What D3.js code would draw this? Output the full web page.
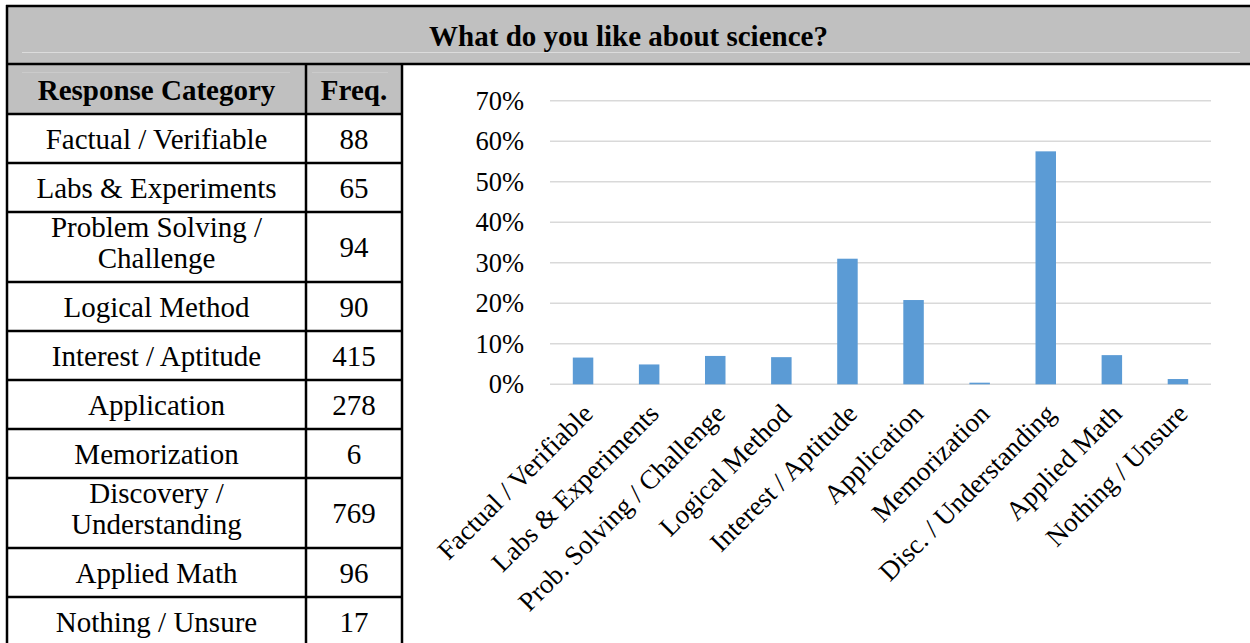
<!DOCTYPE html>
<html>
<head>
<meta charset="utf-8">
<script src="https://cdn.jsdelivr.net/npm/d3@7"></script>
<style>
  body { margin: 0; background: #fff; }
  svg { display: block; }
  text { font-family: "Liberation Serif", "Times New Roman", serif; fill: #000; }
</style>
</head>
<body>
<div id="chart"></div>
<script>
// table data
var title = "What do you like about science?";
var tableHeaders = ["Response Category", "Freq."];
var tableCategories = [
  ["Factual / Verifiable"],
  ["Labs & Experiments"],
  ["Problem Solving /", "Challenge"],
  ["Logical Method"],
  ["Interest / Aptitude"],
  ["Application"],
  ["Memorization"],
  ["Discovery /", "Understanding"],
  ["Applied Math"],
  ["Nothing / Unsure"]
];
var freqs = [88, 65, 94, 90, 415, 278, 6, 769, 96, 17];

// chart data
var categories = ["Factual / Verifiable", "Labs & Experiments", "Prob. Solving / Challenge",
  "Logical Method", "Interest / Aptitude", "Application", "Memorization",
  "Disc. / Understanding", "Applied Math", "Nothing / Unsure"];
var percents = [6.6, 4.9, 7.0, 6.7, 31.0, 20.8, 0.4, 57.5, 7.2, 1.3];
var yTicks = [0, 10, 20, 30, 40, 50, 60, 70];

var width = 1250, height = 643;

var svg = d3.select("#chart").append("svg")
    .attr("width", width)
    .attr("height", height);

// ---- title band ----
svg.append("rect")
    .attr("x", 7).attr("y", 6)
    .attr("width", width - 7).attr("height", 58)
    .attr("fill", "#c0c0c0");
svg.append("line")
    .attr("x1", 22).attr("x2", 1240).attr("y1", 52.5).attr("y2", 52.5)
    .attr("stroke", "#dcdcdc").attr("stroke-width", 1);
svg.append("text")
    .attr("x", (7 + width) / 2).attr("y", 46)
    .attr("text-anchor", "middle")
    .attr("font-size", 29).attr("font-weight", "bold")
    .text(title);

// ---- table ----
var colX = [7, 306, 402];
var headerTop = 64, headerBottom = 114;
var lineH = 49, extraH = 21;

var rowTops = [];
var yy = headerBottom;
tableCategories.forEach(function (lines) {
  rowTops.push(yy);
  yy += lineH + (lines.length - 1) * extraH;
});
var tableBottom = yy;

svg.append("rect")
    .attr("x", colX[0]).attr("y", headerTop)
    .attr("width", colX[2] - colX[0]).attr("height", headerBottom - headerTop)
    .attr("fill", "#c0c0c0");
svg.append("line")
    .attr("x1", 22).attr("x2", 290).attr("y1", 72.5).attr("y2", 72.5)
    .attr("stroke", "#cbcbcb");
svg.append("line")
    .attr("x1", 312).attr("x2", 388).attr("y1", 72.5).attr("y2", 72.5)
    .attr("stroke", "#cbcbcb");

svg.selectAll(".th")
    .data(tableHeaders)
  .enter().append("text")
    .attr("class", "th")
    .attr("x", function (d, i) { return (colX[i] + colX[i + 1]) / 2; })
    .attr("y", 100)
    .attr("text-anchor", "middle")
    .attr("font-size", 29).attr("font-weight", "bold")
    .text(function (d) { return d; });

var rows = svg.selectAll(".row")
    .data(tableCategories)
  .enter().append("g")
    .attr("class", "row")
    .attr("transform", function (d, i) { return "translate(0," + rowTops[i] + ")"; });

rows.each(function (lines, i) {
  var g = d3.select(this);
  var h = lineH + (lines.length - 1) * extraH;
  var mid = h / 2;
  var t = g.append("text")
      .attr("x", (colX[0] + colX[1]) / 2)
      .attr("text-anchor", "middle")
      .attr("font-size", 29);
  lines.forEach(function (s, k) {
    t.append("tspan")
        .attr("x", (colX[0] + colX[1]) / 2)
        .attr("y", mid + 10 - (lines.length - 1) * 20.5 + k * 31)
        .text(s);
  });
  g.append("text")
      .attr("x", (colX[1] + colX[2]) / 2)
      .attr("y", mid + 10)
      .attr("text-anchor", "middle")
      .attr("font-size", 29)
      .text(freqs[i]);
});

// table rules
var hLines = [headerBottom].concat(rowTops.slice(1), [tableBottom]);
svg.selectAll(".hrule")
    .data(hLines)
  .enter().append("line")
    .attr("x1", colX[0]).attr("x2", colX[2])
    .attr("y1", function (d) { return d; })
    .attr("y2", function (d) { return d; })
    .attr("stroke", "#000").attr("stroke-width", 2.5);
svg.selectAll(".vrule")
    .data(colX.slice(1))
  .enter().append("line")
    .attr("x1", function (d) { return d; })
    .attr("x2", function (d) { return d; })
    .attr("y1", headerTop).attr("y2", tableBottom)
    .attr("stroke", "#000").attr("stroke-width", 2.5);

// outer frame: top, under title, left
svg.append("line")
    .attr("x1", 6).attr("x2", width).attr("y1", 6).attr("y2", 6)
    .attr("stroke", "#000").attr("stroke-width", 2.5);
svg.append("line")
    .attr("x1", 6).attr("x2", width).attr("y1", 64).attr("y2", 64)
    .attr("stroke", "#000").attr("stroke-width", 2.5);
svg.append("line")
    .attr("x1", 7).attr("x2", 7).attr("y1", 5).attr("y2", tableBottom)
    .attr("stroke", "#000").attr("stroke-width", 2.5);

// ---- bar chart ----
var plot = {left: 550, right: 1211, top: 100.7, bottom: 384.3};

var x = d3.scaleBand()
    .domain(categories)
    .range([plot.left, plot.right])
    .paddingInner(0.69)
    .paddingOuter(0.345);

var y = d3.scaleLinear()
    .domain([0, 70])
    .range([plot.bottom, plot.top]);

var chart = svg.append("g").attr("class", "bar-chart");

chart.selectAll(".grid")
    .data(yTicks)
  .enter().append("line")
    .attr("class", "grid")
    .attr("x1", plot.left).attr("x2", plot.right)
    .attr("y1", function (d) { return y(d); })
    .attr("y2", function (d) { return y(d); })
    .attr("stroke", "#d9d9d9").attr("stroke-width", 1.5);

var yAxis = chart.append("g")
    .attr("transform", "translate(" + plot.left + ",0)")
    .call(d3.axisLeft(y).tickValues(yTicks)
      .tickFormat(function (d) { return d + "%"; })
      .tickSize(0).tickPadding(26));
yAxis.select(".domain").remove();
yAxis.selectAll("text")
    .attr("font-family", "Liberation Serif, Times New Roman, serif")
    .attr("font-size", 26.5)
    .attr("fill", "#000");

chart.selectAll(".bar")
    .data(percents)
  .enter().append("rect")
    .attr("class", "bar")
    .attr("x", function (d, i) { return x(categories[i]); })
    .attr("y", function (d) { return y(d); })
    .attr("width", x.bandwidth())
    .attr("height", function (d) { return plot.bottom - y(d); })
    .attr("fill", "#5b9bd5");

chart.selectAll(".xlabel")
    .data(categories)
  .enter().append("text")
    .attr("class", "xlabel")
    .attr("transform", function (d) {
      return "translate(" + (x(d) + x.bandwidth() / 2 - 2) + ",402) rotate(-45)";
    })
    .attr("dy", "0.7em")
    .attr("text-anchor", "end")
    .attr("font-size", 27)
    .text(function (d) { return d; });
</script>
</body>
</html>
